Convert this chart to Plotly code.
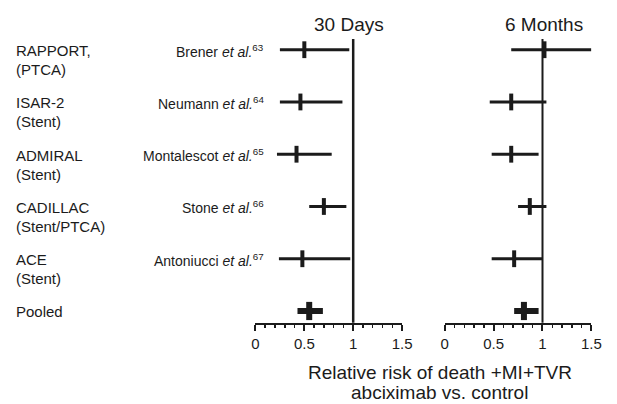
import plotly.graph_objects as go

# ---- data ----
trials = ["RAPPORT,", "ISAR-2", "ADMIRAL", "CADILLAC", "ACE", "Pooled"]
designs = ["(PTCA)", "(Stent)", "(Stent)", "(Stent/PTCA)", "(Stent)", ""]
authors = ["Brener", "Neumann", "Montalescot", "Stone", "Antoniucci", ""]
refs = ["63", "64", "65", "66", "67", ""]

rr_30d = [0.50, 0.46, 0.42, 0.70, 0.48, 0.55]
lo_30d = [0.25, 0.25, 0.22, 0.55, 0.24, 0.43]
hi_30d = [0.96, 0.89, 0.78, 0.93, 0.97, 0.69]

rr_6m = [1.02, 0.68, 0.68, 0.87, 0.71, 0.81]
lo_6m = [0.68, 0.46, 0.48, 0.75, 0.48, 0.71]
hi_6m = [1.50, 1.04, 0.96, 1.04, 1.00, 0.96]

panel_titles = ["30 Days", "6 Months"]
tick_vals = [0, 0.5, 1, 1.5]
tick_text = ["0", "0.5", "1", "1.5"]
axis_title_lines = ["Relative risk of death +MI+TVR", "abciximab vs. control"]

# ---- styling ----
W, H = 617, 404
INK = "#1b1b1b"
FONT = "Liberation Sans, Arial, Helvetica, sans-serif"

fig = go.Figure()

n = len(trials)
ypos = list(range(n))


def add_panel(rr, lo, hi, xa, ya):
    for i in range(n):
        pooled = trials[i] == "Pooled"
        fig.add_trace(go.Scatter(
            x=[rr[i]], y=[ypos[i]], xaxis=xa, yaxis=ya,
            mode="markers",
            marker=dict(symbol="line-ns", size=13 if pooled else 12,
                        line=dict(width=6 if pooled else 4, color=INK)),
            error_x=dict(type="data", symmetric=False,
                         array=[hi[i] - rr[i]], arrayminus=[rr[i] - lo[i]],
                         width=0, thickness=6 if pooled else 3, color=INK),
            cliponaxis=False, showlegend=False, hoverinfo="skip",
        ))


add_panel(rr_30d, lo_30d, hi_30d, "x", "y")
add_panel(rr_6m, lo_6m, hi_6m, "x2", "y2")

ydom = [1 - 322.7 / H, 1 - 39 / H]
yrange = [5.224, -0.205]
xcommon = dict(
    range=[0, 1.5], showgrid=False, zeroline=False,
    showline=True, linewidth=2, linecolor=INK,
    ticks="outside", ticklen=6, tickwidth=2, tickcolor=INK,
    tickvals=tick_vals, ticktext=tick_text,
    tickfont=dict(family=FONT, size=15, color=INK),
    minor=dict(dtick=0.1, ticks="outside", ticklen=3, tickwidth=1.5, tickcolor=INK),
    fixedrange=True,
)
ycommon = dict(range=yrange, domain=ydom, visible=False, showgrid=False,
               zeroline=False, fixedrange=True)

fig.update_layout(
    width=W, height=H, autosize=False,
    margin=dict(l=0, r=0, t=0, b=0, pad=0),
    paper_bgcolor="white", plot_bgcolor="white",
    xaxis=dict(domain=[257.3 / W, 407.3 / W], anchor="y", **xcommon),
    xaxis2=dict(domain=[451 / W, 601 / W], anchor="y2", **xcommon),
    yaxis=dict(anchor="x", **ycommon),
    yaxis2=dict(anchor="x2", **ycommon),
    font=dict(family=FONT, color=INK),
)

# reference lines at RR = 1
fig.add_shape(type="line", xref="x", yref="y domain", x0=1, x1=1, y0=0, y1=1,
              line=dict(color=INK, width=2.5), layer="below")
fig.add_shape(type="line", xref="x2", yref="y2 domain", x0=1, x1=1, y0=0, y1=1,
              line=dict(color=INK, width=2), layer="below")

ann = []
# panel titles
for t, xc in zip(panel_titles, [352.5, 552.5]):
    ann.append(dict(text=t, x=xc / W, y=1 - 24 / H, xref="paper", yref="paper",
                    xanchor="center", yanchor="middle", showarrow=False,
                    font=dict(size=19, color=INK, family=FONT)))
# axis title (second line anchored to the bottom edge so it is not clipped)
ann.append(dict(text=axis_title_lines[0], x=445.8 / W, y=1 - 372 / H,
                xref="paper", yref="paper", xanchor="center", yanchor="middle",
                showarrow=False, font=dict(size=19, color=INK, family=FONT)))
ann.append(dict(text=axis_title_lines[1], x=445.8 / W, y=0, borderpad=0,
                xref="paper", yref="paper", xanchor="center", yanchor="bottom",
                showarrow=False, font=dict(size=19, color=INK, family=FONT)))
# row labels
for i in range(n):
    ann.append(dict(text=trials[i], x=10.5 / W, y=ypos[i], xref="paper", yref="y",
                    xanchor="left", yanchor="middle", showarrow=False, yshift=-1,
                    font=dict(size=15, color=INK, family=FONT)))
    if designs[i]:
        ann.append(dict(text=designs[i], x=10.5 / W, y=ypos[i], xref="paper", yref="y",
                        xanchor="left", yanchor="middle", showarrow=False, yshift=-20,
                        font=dict(size=15, color=INK, family=FONT)))
    if authors[i]:
        ann.append(dict(text=f"{authors[i]} <i>et al.</i><sup>{refs[i]}</sup>",
                        x=268 / W, y=ypos[i], xref="paper", yref="y",
                        xanchor="right", yanchor="middle", showarrow=False, yshift=-1,
                        font=dict(size=14, color=INK, family=FONT)))

fig.update_layout(annotations=ann)

fig.write_html(
    "out.html",
    config={"displayModeBar": False, "responsive": False, "staticPlot": True},
    post_script="document.body.style.margin='0';document.body.style.overflow='hidden';",
)
